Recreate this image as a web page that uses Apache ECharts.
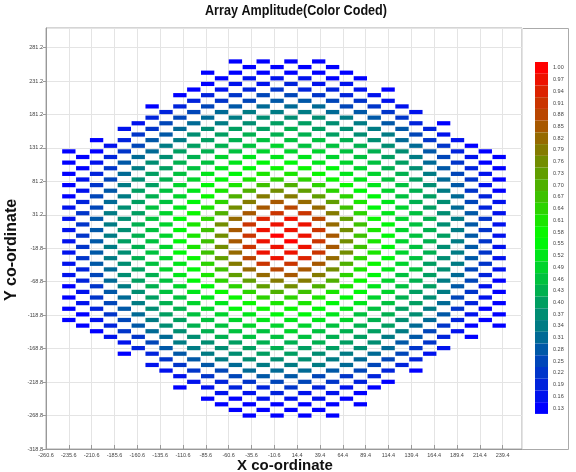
<!DOCTYPE html>
<html><head><meta charset="utf-8">
<script src="https://cdn.jsdelivr.net/npm/echarts@6/dist/echarts.min.js"></script>
<style>html,body{margin:0;padding:0;background:#fff}#c{width:576px;height:472px}</style>
</head><body><div id="c"></div>
<script>
// element column x positions (data units)
const colX = [-235.6,-220.4,-205.2,-190,-174.8,-159.6,-144.4,-129.2,-114,-98.8,-83.6,-68.4,-53.2,-38,-22.8,-7.6,7.6,22.8,38,53.2,68.4,83.6,98.8,114,129.2,144.4,159.6,174.8,190,205.2,220.4,235.6];
// row y positions, top to bottom
const rowY = [260.4,252,243.6,235.2,226.8,218.4,210,201.6,193.2,184.8,176.4,168,159.6,151.2,142.8,134.4,126,117.6,109.2,100.8,92.4,84,75.6,67.2,58.8,50.4,42,33.6,25.2,16.8,8.4,0,-8.4,-16.8,-25.2,-33.6,-42,-50.4,-58.8,-67.2,-75.6,-84,-92.4,-100.8,-109.2,-117.6,-126,-134.4,-142.8,-151.2,-159.6,-168,-176.4,-184.8,-193.2,-201.6,-210,-218.4,-226.8,-235.2,-243.6,-252,-260.4,-268.8];
// index in colX of the first element of each row (elements sit on every second column)
const rowStart = [12,13,10,11,10,9,8,9,6,7,6,5,4,5,2,3,
                  0,1,0,1,0,1,0,1,0,1,0,1,0,1,0,1,
                  0,1,0,1,0,1,0,1,0,1,0,1,0,1,0,1,
                  2,3,4,5,4,7,6,7,8,9,8,11,10,11,12,13];
// amplitude of each element, row by row (top to bottom)
const rowAmp = [
[0.13,0.13,0.13,0.13],
[0.13,0.13,0.13,0.13],
[0.13,0.13,0.13,0.13,0.13,0.13],
[0.13,0.16,0.16,0.16,0.13,0.13],
[0.13,0.16,0.16,0.19,0.16,0.16],
[0.13,0.16,0.19,0.22,0.19,0.19,0.16,0.13],
[0.13,0.19,0.22,0.25,0.25,0.22,0.19,0.16],
[0.19,0.22,0.25,0.28,0.28,0.25,0.22,0.16],
[0.13,0.19,0.25,0.28,0.31,0.31,0.31,0.25,0.22,0.16],
[0.19,0.25,0.31,0.34,0.34,0.34,0.31,0.28,0.22,0.16],
[0.19,0.25,0.31,0.34,0.37,0.37,0.37,0.34,0.28,0.22],
[0.16,0.25,0.31,0.34,0.37,0.40,0.40,0.37,0.34,0.28,0.19,0.13],
[0.16,0.22,0.31,0.37,0.40,0.40,0.43,0.40,0.37,0.34,0.28,0.19],
[0.22,0.28,0.37,0.40,0.43,0.43,0.43,0.40,0.37,0.34,0.25,0.16],
[0.13,0.19,0.28,0.34,0.40,0.43,0.46,0.46,0.46,0.43,0.37,0.31,0.22,0.16],
[0.16,0.25,0.34,0.40,0.43,0.46,0.49,0.46,0.46,0.43,0.37,0.31,0.22,0.13],
[0.13,0.13,0.22,0.31,0.40,0.43,0.46,0.49,0.49,0.49,0.46,0.43,0.37,0.28,0.19,0.13],
[0.13,0.19,0.31,0.37,0.43,0.49,0.52,0.52,0.52,0.49,0.46,0.40,0.34,0.25,0.16,0.13],
[0.13,0.16,0.28,0.37,0.43,0.46,0.52,0.55,0.55,0.52,0.49,0.46,0.40,0.31,0.22,0.13],
[0.13,0.22,0.34,0.40,0.46,0.52,0.55,0.58,0.58,0.55,0.49,0.43,0.37,0.28,0.19,0.13],
[0.13,0.19,0.31,0.40,0.46,0.52,0.55,0.61,0.61,0.58,0.52,0.49,0.43,0.34,0.25,0.16],
[0.16,0.25,0.37,0.43,0.49,0.55,0.61,0.64,0.64,0.58,0.52,0.46,0.40,0.31,0.22,0.13],
[0.13,0.22,0.34,0.40,0.49,0.55,0.61,0.67,0.70,0.64,0.58,0.52,0.46,0.37,0.28,0.16],
[0.16,0.28,0.40,0.46,0.52,0.61,0.70,0.76,0.73,0.64,0.55,0.49,0.43,0.34,0.22,0.13],
[0.13,0.25,0.34,0.43,0.49,0.58,0.70,0.79,0.79,0.73,0.64,0.55,0.46,0.40,0.31,0.19],
[0.19,0.31,0.40,0.46,0.55,0.64,0.79,0.85,0.82,0.73,0.61,0.52,0.43,0.37,0.25,0.16],
[0.16,0.25,0.37,0.46,0.52,0.61,0.76,0.85,0.88,0.82,0.67,0.55,0.49,0.40,0.31,0.19],
[0.22,0.34,0.40,0.49,0.58,0.70,0.85,0.91,0.91,0.79,0.64,0.52,0.46,0.37,0.28,0.16],
[0.16,0.28,0.37,0.46,0.55,0.64,0.82,0.94,0.97,0.88,0.73,0.58,0.49,0.43,0.34,0.22],
[0.22,0.34,0.43,0.49,0.61,0.76,0.91,0.97,0.97,0.82,0.67,0.55,0.46,0.37,0.28,0.16],
[0.16,0.28,0.37,0.46,0.55,0.67,0.85,0.97,0.97,0.91,0.76,0.61,0.49,0.43,0.34,0.22],
[0.22,0.34,0.43,0.49,0.61,0.76,0.91,1.00,0.97,0.85,0.67,0.55,0.46,0.40,0.28,0.16],
[0.16,0.28,0.40,0.46,0.55,0.67,0.85,0.97,1.00,0.91,0.76,0.61,0.49,0.43,0.34,0.22],
[0.22,0.34,0.43,0.49,0.61,0.76,0.91,0.97,0.97,0.85,0.67,0.55,0.46,0.37,0.28,0.16],
[0.16,0.28,0.37,0.46,0.55,0.67,0.82,0.97,0.97,0.91,0.76,0.61,0.49,0.43,0.34,0.22],
[0.22,0.34,0.43,0.49,0.58,0.73,0.88,0.97,0.94,0.82,0.64,0.55,0.46,0.37,0.28,0.16],
[0.16,0.28,0.37,0.46,0.52,0.64,0.79,0.91,0.91,0.85,0.70,0.58,0.49,0.40,0.34,0.22],
[0.19,0.31,0.40,0.49,0.55,0.67,0.82,0.88,0.85,0.76,0.61,0.52,0.46,0.37,0.25,0.16],
[0.16,0.25,0.37,0.43,0.52,0.61,0.73,0.82,0.85,0.79,0.64,0.55,0.46,0.40,0.31,0.19],
[0.19,0.31,0.40,0.46,0.55,0.64,0.73,0.79,0.79,0.70,0.58,0.49,0.43,0.34,0.25,0.13],
[0.13,0.22,0.34,0.43,0.49,0.55,0.64,0.73,0.76,0.70,0.61,0.52,0.46,0.40,0.28,0.16],
[0.16,0.28,0.37,0.46,0.52,0.58,0.64,0.70,0.67,0.61,0.55,0.49,0.40,0.34,0.22,0.13],
[0.13,0.22,0.31,0.40,0.46,0.52,0.58,0.64,0.64,0.61,0.55,0.49,0.43,0.37,0.25,0.16],
[0.16,0.25,0.34,0.43,0.49,0.52,0.58,0.61,0.61,0.55,0.52,0.46,0.40,0.31,0.19,0.13],
[0.13,0.19,0.28,0.37,0.43,0.49,0.55,0.58,0.58,0.55,0.52,0.46,0.40,0.34,0.22,0.13],
[0.13,0.22,0.31,0.40,0.46,0.49,0.52,0.55,0.55,0.52,0.46,0.43,0.37,0.28,0.16,0.13],
[0.13,0.16,0.25,0.34,0.40,0.46,0.49,0.52,0.52,0.52,0.49,0.43,0.37,0.31,0.19,0.13],
[0.13,0.19,0.28,0.37,0.43,0.46,0.49,0.49,0.49,0.46,0.43,0.40,0.31,0.22,0.13,0.13],
[0.13,0.22,0.31,0.37,0.43,0.46,0.46,0.49,0.46,0.43,0.40,0.34,0.25,0.16],
[0.16,0.22,0.31,0.37,0.43,0.46,0.46,0.46,0.43,0.40,0.34,0.28,0.19,0.13],
[0.16,0.25,0.34,0.37,0.40,0.43,0.43,0.43,0.40,0.37,0.28,0.22],
[0.19,0.28,0.34,0.37,0.40,0.43,0.40,0.40,0.37,0.31,0.22,0.16],
[0.13,0.19,0.28,0.34,0.37,0.40,0.40,0.37,0.34,0.31,0.25,0.16],
[0.22,0.28,0.34,0.37,0.37,0.37,0.34,0.31,0.25,0.19],
[0.16,0.22,0.28,0.31,0.34,0.34,0.34,0.31,0.25,0.19],
[0.16,0.22,0.25,0.31,0.31,0.31,0.28,0.25,0.19,0.13],
[0.16,0.22,0.25,0.28,0.28,0.25,0.22,0.19],
[0.16,0.19,0.22,0.25,0.25,0.22,0.19,0.13],
[0.13,0.16,0.19,0.19,0.22,0.19,0.16,0.13],
[0.16,0.16,0.19,0.16,0.16,0.13],
[0.13,0.13,0.16,0.16,0.16,0.13],
[0.13,0.13,0.13,0.13,0.13,0.13],
[0.13,0.13,0.13,0.13],
[0.13,0.13,0.13,0.13]
];
// colour bar levels (tick labels of the colour bar), top to bottom
const levels = [1.00,0.97,0.94,0.91,0.88,0.85,0.82,0.79,0.76,0.73,0.70,0.67,0.64,0.61,0.58,0.55,0.52,0.49,0.46,0.43,0.40,0.37,0.34,0.31,0.28,0.25,0.22,0.19,0.16,0.13];
// axis tick settings
const xMin = -260.6, xMax = 260.6, xStep = 25;
const yMin = -318.8, yMax = 310.4, yStep = 50;
const cellW = 14.6, cellH = 6.3;

function levelColor(v) {
  const t = (v - 0.13) / 0.87;
  let r, g, b;
  if (t <= 0.5) { r = 0; g = 2 * t * 255; b = (1 - 2 * t) * 255; }
  else { r = (2 * t - 1) * 255; g = (2 - 2 * t) * 255; b = 0; }
  return 'rgb(' + Math.round(r) + ',' + Math.round(g) + ',' + Math.round(b) + ')';
}

const data = [];
rowAmp.forEach(function (amps, r) {
  amps.forEach(function (a, k) {
    data.push([colX[rowStart[r] + 2 * k] - xMin, rowY[r] - yMin, a]);
  });
});

const pieces = levels.map(function (v) {
  return { min: +(v - 0.015).toFixed(3), max: +(v + 0.015).toFixed(3), color: levelColor(v) };
});

const chart = echarts.init(document.getElementById('c'));
const lblFont = 'Liberation Sans';
chart.setOption({
  animation: false,
  backgroundColor: '#fff',
  graphic: [
    { type: 'text', x: 296, y: 4, scaleX: 0.9, style: { text: 'Array Amplitude(Color Coded)', x: 0, y: 0, textAlign: 'center', font: 'bold 14px "Liberation Sans", Arial, sans-serif', fill: '#111' } },
    { type: 'text', style: { text: 'X co-ordinate', x: 285, y: 458, textAlign: 'center', font: 'bold 15px "Liberation Sans", Arial, sans-serif', fill: '#111' } },
    { type: 'text', rotation: Math.PI / 2, x: 4, y: 250, style: { text: 'Y co-ordinate', x: 0, y: 0, textAlign: 'center', font: 'bold 16px "Liberation Sans", Arial, sans-serif', fill: '#111' } },
    { type: 'rect', shape: { x: 522.5, y: 28.5, width: 46, height: 421 }, style: { fill: 'none', stroke: '#aaa', lineWidth: 1 } }
  ],
  grid: { left: 46, top: 28, width: 476, height: 421, show: true, borderColor: '#aaa', borderWidth: 1 },
  xAxis: {
    type: 'value', min: 0, max: xMax - xMin, interval: xStep,
    axisLine: { show: true, lineStyle: { color: '#999' } },
    axisTick: { show: true, inside: true, length: 4, lineStyle: { color: '#999' } },
    splitLine: { show: true, lineStyle: { color: '#e4e4e4' } },
    axisLabel: { showMaxLabel: false, fontSize: 5.5, color: '#444', margin: 3, fontFamily: lblFont,
      formatter: function (v) { return (v + xMin).toFixed(1); } }
  },
  yAxis: {
    type: 'value', min: 0, max: yMax - yMin, interval: yStep,
    axisLine: { show: true, lineStyle: { color: '#999' } },
    axisTick: { show: true, length: 3, lineStyle: { color: '#999' } },
    splitLine: { show: true, lineStyle: { color: '#e4e4e4' } },
    axisLabel: { showMaxLabel: false, fontSize: 5.5, color: '#444', margin: 3, fontFamily: lblFont,
      formatter: function (v) { return (v + yMin).toFixed(1); } }
  },
  visualMap: {
    type: 'piecewise', dimension: 2, seriesIndex: 0,
    pieces: pieces, orient: 'vertical', precision: 2,
    left: 520, top: 47, itemWidth: 13, itemHeight: 11.73, itemGap: 0, itemSymbol: 'rect',
    textGap: 5, selectedMode: false, hoverLink: false, align: 'left',
    formatter: function (a, b) { return ((a + b) / 2).toFixed(2); },
    textStyle: { fontSize: 5.5, color: '#444', fontFamily: lblFont }
  },
  series: [{
    type: 'custom',
    data: data,
    encode: { x: 0, y: 1 },
    renderItem: function (params, api) {
      const c = api.coord([api.value(0), api.value(1)]);
      const s = api.size([cellW, cellH]);
      return { type: 'rect', shape: { x: c[0] - s[0] / 2, y: c[1] - s[1] / 2, width: s[0], height: s[1] },
        style: { fill: api.visual('color') } };
    }
  }]
});
</script></body></html>
